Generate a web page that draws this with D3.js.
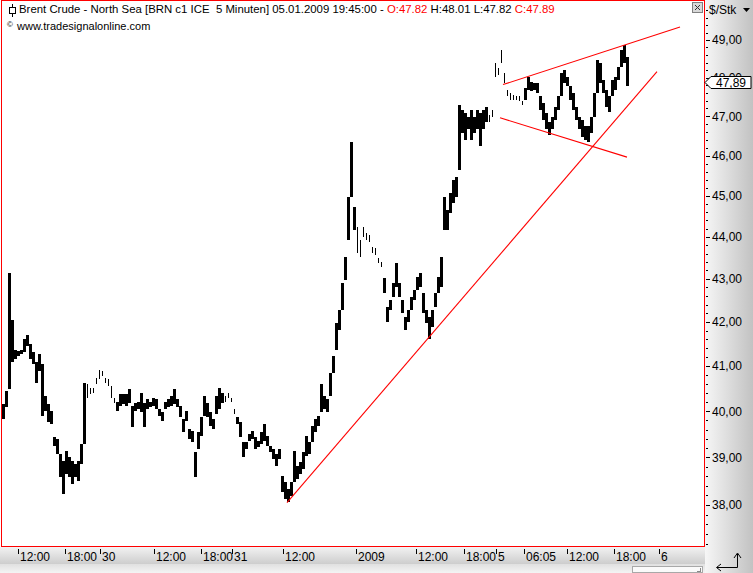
<!DOCTYPE html>
<html>
<head>
<meta charset="utf-8">
<style>
body { margin: 0; background: #fff; }
svg { display: block; font-family: "Liberation Sans", Arial, sans-serif; }
text { white-space: pre; }
</style>
</head>
<body>
<svg width="753" height="573"></svg>
<script src="https://cdnjs.cloudflare.com/ajax/libs/d3/7.8.5/d3.min.js"></script>
<script>

var hi = [40.15,40.44,43.15,42.05,41.37,41.33,41.37,41.60,41.71,41.49,
  41.31,41.10,41.26,41.04,40.33,40.15,40.00,39.44,39.39,39.07,
  38.93,39.14,39.01,38.93,38.86,38.93,39.29,40.63,40.59,40.52,
  40.52,40.74,40.92,40.88,40.74,40.70,40.55,40.30,40.21,40.37,
  40.37,40.37,40.48,40.11,40.19,40.21,40.41,40.19,40.26,40.21,
  40.30,40.26,40.04,39.98,40.21,40.26,40.33,40.48,40.26,40.11,
  39.82,40.00,39.61,39.57,39.12,39.54,39.87,40.33,40.19,39.98,
  39.82,40.33,40.52,40.41,40.33,40.41,40.30,40.04,39.87,39.76,
  39.33,39.33,39.50,39.57,39.44,39.35,39.54,39.72,39.46,39.24,
  39.18,39.07,39.18,38.61,38.48,38.34,38.48,39.14,38.82,38.91,
  39.12,39.46,39.33,39.67,39.82,39.89,40.59,40.33,40.26,40.85,
  41.22,41.98,42.28,42.91,43.52,44.97,46.33,44.72,44.24,43.93,
  44.24,44.10,44.05,43.76,43.74,43.50,43.40,43.03,42.35,42.51,
  42.91,43.38,42.91,42.51,42.12,42.28,42.58,42.75,43.05,43.15,
  42.68,42.28,42.12,42.28,42.68,43.05,43.52,44.97,44.65,45.07,
  45.39,45.46,47.30,47.17,47.09,46.99,47.17,46.99,47.17,47.09,
  47.17,47.25,47.04,47.17,48.39,48.26,48.73,48.13,47.69,47.61,
  47.56,47.51,47.51,47.38,47.74,48.03,47.90,47.87,47.87,47.51,
  47.35,47.09,46.84,46.99,47.25,47.51,48.13,48.21,48.03,47.77,
  47.61,47.25,46.99,46.91,46.74,46.74,46.99,47.61,48.47,48.39,
  47.95,47.69,47.51,47.95,48.03,48.29,48.73,48.87,48.55];

var lo = [39.82,40.09,40.48,41.10,41.15,41.22,41.26,41.31,41.44,41.15,
  41.04,40.63,40.88,39.89,40.00,39.76,39.72,39.24,39.07,38.59,
  38.23,38.65,38.59,38.44,38.59,38.51,38.86,39.29,40.30,40.37,
  40.41,40.59,40.70,40.77,40.63,40.55,40.30,40.19,40.00,40.11,
  40.15,40.11,40.19,39.65,40.00,40.04,39.98,39.65,40.04,40.09,
  40.11,40.04,39.89,39.78,40.04,40.09,40.11,40.15,40.09,39.87,
  39.54,39.78,39.39,39.33,38.59,39.18,39.46,39.89,39.87,39.67,
  39.61,39.93,40.04,40.19,40.21,40.30,40.21,39.93,39.72,39.44,
  39.01,39.18,39.35,39.39,39.18,39.22,39.29,39.35,39.24,39.12,
  38.97,38.82,38.97,38.28,38.13,38.07,38.19,38.48,38.55,38.65,
  38.76,39.03,39.07,39.33,39.54,39.67,39.98,40.04,39.98,40.33,
  40.85,41.37,41.82,42.28,42.98,43.93,44.97,44.17,43.62,43.52,
  44.00,43.93,43.88,43.62,43.57,43.38,43.29,42.68,42.01,42.28,
  42.58,42.82,42.58,42.21,41.82,42.01,42.28,42.51,42.75,42.82,
  42.21,41.98,41.60,41.89,42.35,42.68,42.82,44.17,44.17,44.58,
  44.82,44.97,45.63,46.58,46.40,46.66,46.40,46.58,46.66,46.23,
  46.66,46.84,46.86,46.99,48.03,48.08,48.39,47.87,47.51,47.43,
  47.43,47.43,47.38,47.30,47.43,47.69,47.64,47.69,47.61,47.17,
  46.91,46.66,46.53,46.66,46.91,47.17,47.51,47.87,47.77,47.43,
  47.17,46.91,46.66,46.48,46.40,46.33,46.58,46.99,47.61,47.87,
  47.61,47.25,47.12,47.51,47.69,47.95,48.29,48.39,47.77];

// thin trading stretches (sample index ranges)
var sparse = [[28, 37], [74, 77], [118, 126], [162, 173]];

var xTickPos = [5.33, 21, 32.67, 50.67, 66.33, 76.67, 93.67, 118, 138, 154, 164.67, 174, 188.33, 204, 219];
var xTickLabels = ["12:00", "18:00", "30", "12:00", "18:00", "31", "12:00", "2009", "12:00", "18:00", "5", "06:05", "12:00", "18:00", "6"];
var yTicks = [38, 39, 40, 41, 42, 43, 44, 45, 46, 47, 48, 49];

var lastOpen = 47.82, lastHigh = 48.01, lastLow = 47.82, lastClose = 47.89;

// trend lines: [index1, price1, index2, price2]
var trendLines = [[95, 38.05, 218.33, 48.16], [167, 47.82, 226, 49.35], [166, 46.96, 208.33, 45.96]];

var svg = d3.select("svg");
var fmt = function(v) { return v.toFixed(2).replace(".", ","); };

var x = d3.scaleLinear().domain([0, 234]).range([2, 704]);
var y = d3.scaleLog().domain([38, 49]).range([505, 40]);

var defs = svg.append("defs");
var gR = defs.append("linearGradient").attr("id", "gR");
gR.append("stop").attr("offset", 0).attr("stop-color", "#f6f6f6");
gR.append("stop").attr("offset", 1).attr("stop-color", "#c2c2c2");
var gB = defs.append("linearGradient").attr("id", "gB").attr("x2", 0).attr("y2", 1);
gB.append("stop").attr("offset", 0).attr("stop-color", "#f2f2f2");
gB.append("stop").attr("offset", 1).attr("stop-color", "#cdcdcd");
var gS = defs.append("linearGradient").attr("id", "gS").attr("x2", 0).attr("y2", 1);
gS.append("stop").attr("offset", 0).attr("stop-color", "#e0e0e0");
gS.append("stop").attr("offset", 1).attr("stop-color", "#f4f4f4");
defs.append("clipPath").attr("id", "clip").append("rect")
  .attr("x", 2).attr("y", 1).attr("width", 702).attr("height", 545);

// panels
svg.append("rect").attr("x", 705).attr("y", 0).attr("width", 48).attr("height", 573).attr("fill", "url(#gR)");
svg.append("rect").attr("x", 0).attr("y", 547).attr("width", 705).attr("height", 17).attr("fill", "url(#gB)");
svg.append("rect").attr("x", 0).attr("y", 564).attr("width", 705).attr("height", 9).attr("fill", "url(#gS)");
svg.append("rect").attr("x", 632.5).attr("y", 566.5).attr("width", 70).attr("height", 6)
  .attr("fill", "#fafafa").attr("stroke", "#a8a8a8");
svg.append("path").attr("d", "M697,571.5h4M700.5,568v4").attr("stroke", "#888").attr("fill", "none");

svg.append("rect").attr("x", 1.5).attr("y", 0.5).attr("width", 703).attr("height", 546)
  .attr("fill", "#fff").attr("stroke", "#ff0000");

// bars
var isSparse = function(i) { return sparse.some(function(r) { return i >= r[0] && i <= r[1]; }); };
var plot = svg.append("g").attr("clip-path", "url(#clip)");
plot.selectAll("rect.bar")
  .data(hi.map(function(h, i) { return {i: i, h: h, l: lo[i]}; }))
  .join("rect")
  .attr("class", "bar")
  .attr("x", function(d) { return x(d.i) + (isSparse(d.i) ? 1 : 0); })
  .attr("width", function(d) { return isSparse(d.i) ? 1 : 3; })
  .attr("y", function(d) { return Math.round(y(d.h)); })
  .attr("height", function(d) { return Math.max(1, Math.round(y(d.l)) - Math.round(y(d.h))); })
  .attr("fill", "#000");

plot.selectAll("line.trend")
  .data(trendLines)
  .join("line")
  .attr("x1", function(d) { return x(d[0]); })
  .attr("y1", function(d) { return y(d[1]); })
  .attr("x2", function(d) { return x(d[2]); })
  .attr("y2", function(d) { return y(d[3]); })
  .attr("stroke", "#ff0000")
  .attr("stroke-width", 1.1);

// y axis on the right
var minor = d3.range(186, 251).map(function(k) { return k / 5; }).filter(function(v) { return Math.abs(v - Math.round(v)) > 1e-6; });
svg.append("g").selectAll("line").data(minor).join("line")
  .attr("x1", 706).attr("x2", 708)
  .attr("y1", function(d) { return Math.round(y(d)) + 0.5; })
  .attr("y2", function(d) { return Math.round(y(d)) + 0.5; })
  .attr("stroke", "#000");
var yAxis = svg.append("g").attr("font-size", 12);
yAxis.selectAll("line").data(yTicks).join("line")
  .attr("x1", 706).attr("x2", 710)
  .attr("y1", function(d) { return Math.round(y(d)) + 0.5; })
  .attr("y2", function(d) { return Math.round(y(d)) + 0.5; })
  .attr("stroke", "#000");
// 48,00 ends up mostly under the last-price marker, as in the original
yAxis.selectAll("text").data(yTicks).join("text")
  .attr("x", 712)
  .attr("y", function(d) { return y(d); })
  .attr("dy", "0.36em")
  .text(fmt);

// last price marker
var yc = Math.round(y(lastClose)) + 0.5;
svg.append("path")
  .attr("d", "M705," + yc + "L711," + (yc - 6) + "H751V" + (yc + 6) + "H711Z")
  .attr("fill", "#fff").attr("stroke", "#000");
svg.append("text").attr("x", 716).attr("y", yc).attr("dy", "0.36em").attr("font-size", 12).text(fmt(lastClose));

svg.append("text").attr("x", 709).attr("y", 14).attr("font-size", 12).text("$/Stk");
svg.append("path").attr("d", "M743,8h7l-3.5,4z").attr("fill", "#000");

// close button
svg.append("rect").attr("x", 692.5).attr("y", 2.5).attr("width", 10).attr("height", 10)
  .attr("fill", "#d8d8d8").attr("stroke", "#808080");
svg.append("path").attr("d", "M695,5l5,5M700,5l-5,5").attr("stroke", "#333").attr("fill", "none");

// x axis
var xAxis = svg.append("g").attr("font-size", 12);
xAxis.selectAll("line").data(xTickPos).join("line")
  .attr("x1", function(d) { return Math.round(x(d)) + 0.5; })
  .attr("x2", function(d) { return Math.round(x(d)) + 0.5; })
  .attr("y1", 549).attr("y2", 554)
  .attr("stroke", "#000");
xAxis.selectAll("text").data(xTickPos).join("text")
  .attr("x", function(d) { return Math.round(x(d)) + 2; })
  .attr("y", 561)
  .text(function(d, i) { return xTickLabels[i]; });

// return arrow in the corner
svg.append("path").attr("d", "M737.5,554V567.5H717").attr("stroke", "#000").attr("fill", "none");
svg.append("path").attr("d", "M734,558l3.5,-5l3.5,5M721,564l-4.5,3.5l4.5,3.5").attr("stroke", "#000").attr("fill", "none");

// header
svg.append("line").attr("x1", 12.5).attr("x2", 12.5).attr("y1", 4).attr("y2", 17).attr("stroke", "#000");
svg.append("rect").attr("x", 9.5).attr("y", 7.5).attr("width", 6).attr("height", 6).attr("fill", "#fff").attr("stroke", "#000");
var head = svg.append("text").attr("x", 19).attr("y", 13).attr("font-size", 11.4);
head.append("tspan").text("Brent Crude - North Sea [BRN c1 ICE  5 Minuten] 05.01.2009 19:45:00 - ");
head.append("tspan").attr("fill", "#ff0000").text("O:" + lastOpen.toFixed(2));
head.append("tspan").text(" H:" + lastHigh.toFixed(2) + " L:" + lastLow.toFixed(2) + " ");
head.append("tspan").attr("fill", "#ff0000").text("C:" + lastClose.toFixed(2));
svg.append("text").attr("x", 7).attr("y", 27).attr("font-size", 8).text("\u00a9");
svg.append("text").attr("x", 17).attr("y", 30).attr("font-size", 11).text("www.tradesignalonline.com");

</script>
</body>
</html>
